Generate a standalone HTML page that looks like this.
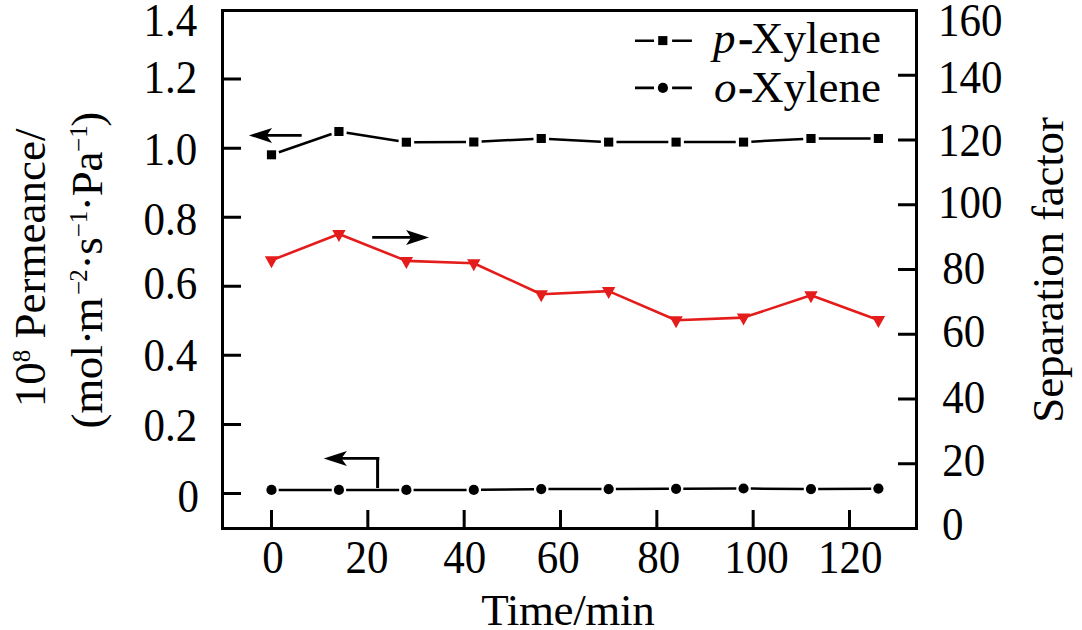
<!DOCTYPE html>
<html><head><meta charset="utf-8"><style>
html,body{margin:0;padding:0;background:#fff;width:1082px;height:630px;overflow:hidden}
svg{display:block}
text{font-family:"Liberation Serif",serif;font-size:45px;fill:#000}
</style></head><body>
<svg width="1082" height="630" viewBox="0 0 1082 630">
<rect x="222.5" y="10.5" width="694" height="518" fill="none" stroke="#000" stroke-width="3"/>
<path d="M224 493.50H241M224 424.43H241M224 355.37H241M224 286.30H241M224 217.24H241M224 148.17H241M224 79.10H241M898 463.75H915M898 399.00H915M898 334.25H915M898 269.50H915M898 204.75H915M898 140.00H915M898 75.25H915M271.50 510V527M367.83 510V527M464.17 510V527M560.50 510V527M656.84 510V527M753.17 510V527M849.50 510V527" stroke="#000" stroke-width="3" fill="none"/>
<polyline points="271.50,260.30 338.93,234.00 406.37,260.90 473.80,263.20 541.24,294.20 608.67,291.10 676.10,320.20 743.54,317.60 810.97,295.30 878.40,320.00" fill="none" stroke="#e41c1b" stroke-width="2.6" stroke-linejoin="round"/>
<path d="M264.80 256.30H278.20L271.50 268.30ZM332.23 230.00H345.63L338.93 242.00ZM399.67 256.90H413.07L406.37 268.90ZM467.10 259.20H480.50L473.80 271.20ZM534.54 290.20H547.94L541.24 302.20ZM601.97 287.10H615.37L608.67 299.10ZM669.40 316.20H682.80L676.10 328.20ZM736.84 313.60H750.24L743.54 325.60ZM804.27 291.30H817.67L810.97 303.30ZM871.70 316.00H885.10L878.40 328.00Z" fill="#e41c1b"/>
<path d="M278.87 152.25L331.56 134.05M346.64 132.72L398.66 140.98M414.17 142.18L466.00 142.02M481.59 141.60L533.45 138.90M549.02 138.92L600.88 141.68M616.47 142.10L668.30 142.10M683.90 142.10L735.74 142.10M751.33 141.68L803.18 138.92M818.77 138.50L870.60 138.50" stroke="#000" stroke-width="2.5" fill="none"/>
<rect x="266.90" y="150.30" width="9.2" height="9" fill="#000"/><rect x="334.33" y="127.00" width="9.2" height="9" fill="#000"/><rect x="401.77" y="137.70" width="9.2" height="9" fill="#000"/><rect x="469.20" y="137.50" width="9.2" height="9" fill="#000"/><rect x="536.64" y="134.00" width="9.2" height="9" fill="#000"/><rect x="604.07" y="137.60" width="9.2" height="9" fill="#000"/><rect x="671.50" y="137.60" width="9.2" height="9" fill="#000"/><rect x="738.94" y="137.60" width="9.2" height="9" fill="#000"/><rect x="806.37" y="134.00" width="9.2" height="9" fill="#000"/><rect x="873.80" y="134.00" width="9.2" height="9" fill="#000"/>
<path d="M278.70 489.90L331.73 489.90M346.13 489.90L399.17 489.90M413.57 489.90L466.60 489.90M481.00 489.81L534.04 489.19M548.44 489.10L601.47 489.10M615.87 489.07L668.90 488.83M683.30 488.77L736.34 488.53M750.74 488.56L803.77 489.04M818.17 489.05L871.20 488.65" stroke="#000" stroke-width="2.5" fill="none"/>
<circle cx="271.50" cy="489.90" r="5.1" fill="#000"/><circle cx="338.93" cy="489.90" r="5.1" fill="#000"/><circle cx="406.37" cy="489.90" r="5.1" fill="#000"/><circle cx="473.80" cy="489.90" r="5.1" fill="#000"/><circle cx="541.24" cy="489.10" r="5.1" fill="#000"/><circle cx="608.67" cy="489.10" r="5.1" fill="#000"/><circle cx="676.10" cy="488.80" r="5.1" fill="#000"/><circle cx="743.54" cy="488.50" r="5.1" fill="#000"/><circle cx="810.97" cy="489.10" r="5.1" fill="#000"/><circle cx="878.40" cy="488.60" r="5.1" fill="#000"/>
<path d="M262.90 135.40H301.70" stroke="#000" stroke-width="2.8" fill="none"/><path d="M248.90 135.40L272.10 127.90L266.60 135.40L272.10 142.90Z" fill="#000"/>
<path d="M337.70 458.40H379.30" stroke="#000" stroke-width="2.8" fill="none"/><path d="M323.70 458.40L346.90 450.90L341.40 458.40L346.90 465.90Z" fill="#000"/>
<path d="M377.6 457V488" stroke="#000" stroke-width="3" fill="none"/>
<path d="M372.2 237.4H416" stroke="#000" stroke-width="2.9" fill="none"/>
<path d="M429 237.5L406.1 230L411.2 237.5L406.1 245Z" fill="#000"/>
<path d="M635 40.7H654M672.1 40.7H691.9M635 87.9H654M672.1 87.9H691.9" stroke="#000" stroke-width="2.6" fill="none"/>
<rect x="658.2" y="36.1" width="9.2" height="9" fill="#000"/>
<circle cx="662.9" cy="87.9" r="5.1" fill="#000"/>
<text y="52.8"><tspan x="713.1" font-style="italic">p</tspan><tspan x="738.3" stroke="#000" stroke-width="0.6">-</tspan><tspan x="751.1">Xylene</tspan></text>
<text y="101.9"><tspan x="714.1" font-style="italic">o</tspan><tspan x="738.3" stroke="#000" stroke-width="0.6">-</tspan><tspan x="751.1">Xylene</tspan></text>
<g transform="translate(172.00 35.8) scale(0.955 1.03) translate(-172.00 -35.8)"><text x="142.25" y="35.8">1.4</text></g>
<g transform="translate(171.11 92.6) scale(0.955 1.03) translate(-171.11 -92.6)"><text x="142.25" y="92.6">1.2</text></g>
<g transform="translate(171.50 164.6) scale(0.955 1.03) translate(-171.50 -164.6)"><text x="142.25" y="164.6">1.0</text></g>
<g transform="translate(170.38 234.7) scale(0.955 1.03) translate(-170.38 -234.7)"><text x="142.25" y="234.7">0.8</text></g>
<g transform="translate(170.56 298.9) scale(0.955 1.03) translate(-170.56 -298.9)"><text x="142.25" y="298.9">0.6</text></g>
<g transform="translate(170.88 370.6) scale(0.955 1.03) translate(-170.88 -370.6)"><text x="142.25" y="370.6">0.4</text></g>
<g transform="translate(169.99 440.7) scale(0.955 1.03) translate(-169.99 -440.7)"><text x="142.25" y="440.7">0.2</text></g>
<g transform="translate(188.25 511.8) scale(0.955 1.03) translate(-188.25 -511.8)"><text x="177.00" y="511.8">0</text></g>
<g transform="translate(971.27 35.8) scale(0.955 1.03) translate(-971.27 -35.8)"><text x="936.40" y="35.8">160</text></g>
<g transform="translate(971.27 93.1) scale(0.955 1.03) translate(-971.27 -93.1)"><text x="936.40" y="93.1">140</text></g>
<g transform="translate(971.27 156.5) scale(0.955 1.03) translate(-971.27 -156.5)"><text x="936.40" y="156.5">120</text></g>
<g transform="translate(971.27 217.6) scale(0.955 1.03) translate(-971.27 -217.6)"><text x="936.40" y="217.6">100</text></g>
<g transform="translate(963.75 283.9) scale(0.955 1.03) translate(-963.75 -283.9)"><text x="941.25" y="283.9">80</text></g>
<g transform="translate(963.86 346.7) scale(0.955 1.03) translate(-963.86 -346.7)"><text x="941.25" y="346.7">60</text></g>
<g transform="translate(963.33 413.0) scale(0.955 1.03) translate(-963.33 -413.0)"><text x="941.25" y="413.0">40</text></g>
<g transform="translate(963.88 476.0) scale(0.955 1.03) translate(-963.88 -476.0)"><text x="941.25" y="476.0">20</text></g>
<g transform="translate(952.85 539.6) scale(0.955 1.03) translate(-952.85 -539.6)"><text x="941.60" y="539.6">0</text></g>
<g transform="translate(272.95 572.8) scale(0.955 1.03) translate(-272.95 -572.8)"><text x="261.70" y="572.8">0</text></g>
<g transform="translate(367.07 572.8) scale(0.955 1.03) translate(-367.07 -572.8)"><text x="344.43" y="572.8">20</text></g>
<g transform="translate(464.30 572.8) scale(0.955 1.03) translate(-464.30 -572.8)"><text x="442.22" y="572.8">40</text></g>
<g transform="translate(558.26 572.8) scale(0.955 1.03) translate(-558.26 -572.8)"><text x="535.65" y="572.8">60</text></g>
<g transform="translate(658.74 572.8) scale(0.955 1.03) translate(-658.74 -572.8)"><text x="636.24" y="572.8">80</text></g>
<g transform="translate(757.49 572.8) scale(0.955 1.03) translate(-757.49 -572.8)"><text x="722.62" y="572.8">100</text></g>
<g transform="translate(851.22 572.8) scale(0.955 1.03) translate(-851.22 -572.8)"><text x="816.35" y="572.8">120</text></g>
<text x="567.95" y="625.3" text-anchor="middle" textLength="173.4" lengthAdjust="spacing">Time/min</text>
<text transform="translate(45,407.2) rotate(-90)">10<tspan dy="-15.2" font-size="25">8</tspan><tspan dy="15.2"> Permeance/</tspan></text>
<text transform="translate(101.9,429) rotate(-90)"><tspan x="0.52" y="0">(</tspan><tspan x="15.16" y="0">m</tspan><tspan x="49.69" y="0">o</tspan><tspan x="71.4" y="0">l</tspan><tspan x="83.91" y="0">·</tspan><tspan x="96.56" y="0">m</tspan><tspan x="134.06" y="-14.8" font-size="25">−</tspan><tspan x="147.3" y="-14.8" font-size="25">2</tspan><tspan x="159.61" y="0">·</tspan><tspan x="174.25" y="0">s</tspan><tspan x="191.75" y="-14.8" font-size="25">−</tspan><tspan x="205.8" y="-14.8" font-size="25">1</tspan><tspan x="217.71" y="0">·</tspan><tspan x="232.8" y="0">P</tspan><tspan x="257.62" y="0">a</tspan><tspan x="277.05" y="-14.8" font-size="25">−</tspan><tspan x="291.3" y="-14.8" font-size="25">1</tspan><tspan x="302.25" y="0">)</tspan></text>
<text transform="translate(1062.7,422.7) rotate(-90)" textLength="305.6" lengthAdjust="spacing">Separation factor</text>
</svg>
</body></html>
